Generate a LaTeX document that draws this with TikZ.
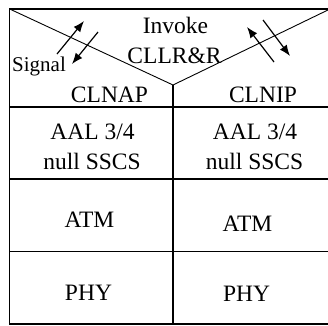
\documentclass[tikz,border=0pt]{standalone}
\usepackage{fontspec}
\setmainfont{Liberation Serif}
\usetikzlibrary{arrows.meta}
\begin{document}
\begin{tikzpicture}[x=1pt,y=-1pt,
  rule/.style={line width=1.2pt,black},
  thin rule/.style={line width=0.9pt,black},
  sig/.style={line width=1.2pt,-{Latex[length=11pt,width=8.5pt]}},
  lbl/.style={anchor=base,inner sep=0pt,font=\fontsize{23.5}{30}\selectfont},
  small lbl/.style={anchor=base,inner sep=0pt,font=\fontsize{21}{26}\selectfont}]
\useasboundingbox (0,0) rectangle (328,325);
% outer frame
\coordinate (tl) at (9.7,9);
\coordinate (tr) at (330,9);
\coordinate (bl) at (9.7,324);
\coordinate (br) at (330,324);
\coordinate (v) at (173,85);
\coordinate (mb) at (173,324);
\draw[rule] (tr) -- (tl) -- (bl) -- (br);
% V lines and middle divider
\draw[thin rule] (tl) -- (v) -- (tr);
\draw[rule] (v) -- (mb);
% horizontal rules
\coordinate (h1l) at (9.7,107);   \coordinate (h1r) at (330,107);
\coordinate (h2l) at (9.7,179);   \coordinate (h2r) at (330,179);
\coordinate (h3l) at (9.7,251.7); \coordinate (h3r) at (330,251.7);
\draw[rule] (h1l) -- (h1r);
\draw[rule] (h2l) -- (h2r);
\draw[rule] (h3l) -- (h3r);
% signal arrows
\coordinate (a1s) at (57,54);  \coordinate (a1e) at (84,21);
\coordinate (a2s) at (98,32);  \coordinate (a2e) at (72,64);
\coordinate (a3s) at (274,62); \coordinate (a3e) at (247,27);
\coordinate (a4s) at (263,20); \coordinate (a4e) at (290,56);
\draw[sig] (a1s) -- (a1e);
\draw[sig] (a2s) -- (a2e);
\draw[sig] (a3s) -- (a3e);
\draw[sig] (a4s) -- (a4e);
% texts
\node[lbl] (inv) at (175.5,33.3) {Invoke};
\node[lbl] (cllr) at (174.5,63.3) {CLLR\&R};
\node[small lbl] (signal) at (39,71) {Signal};
\node[lbl] (clnap) at (109.5,102) {CLNAP};
\node[lbl] (clnip) at (263,102) {CLNIP};
\node[lbl] (aal1) at (92.5,139.3) {AAL 3/4};
\node[lbl] (ssc1) at (92,169) {null SSCS};
\node[lbl] (aal2) at (255,139.3) {AAL 3/4};
\node[lbl] (ssc2) at (254.5,169) {null SSCS};
\node[lbl] (atm1) at (89.5,227.7) {ATM};
\node[lbl] (atm2) at (247.5,231.7) {ATM};
\node[lbl] (phy1) at (88.5,300) {PHY};
\node[lbl] (phy2) at (246.5,301) {PHY};
\end{tikzpicture}
\end{document}
